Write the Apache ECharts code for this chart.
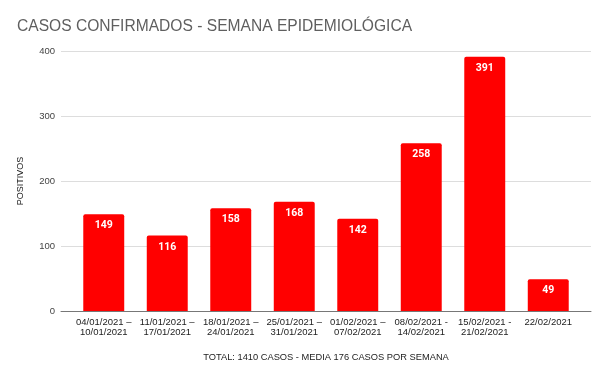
<!DOCTYPE html>
<html><head><meta charset="utf-8">
<script src="https://cdn.jsdelivr.net/npm/echarts@6/dist/echarts.min.js"></script>
<style>html,body{margin:0;padding:0;background:#fff}#c{width:600px;height:370px}</style>
</head><body><div id="c"></div>
<script>
var categories = ["04/01/2021 –\n10/01/2021","11/01/2021 –\n17/01/2021","18/01/2021 –\n24/01/2021","25/01/2021 –\n31/01/2021","01/02/2021 –\n07/02/2021","08/02/2021 -\n14/02/2021","15/02/2021 -\n21/02/2021","22/02/2021"];
var positivos = [149,116,158,168,142,258,391,49];
var yTicks = [0,100,200,300,400];
var F = 'Liberation Sans, Arial, sans-serif';
var chart = echarts.init(document.getElementById('c'));
chart.setOption({
  animation:false,
  title:{text:'CASOS CONFIRMADOS - SEMANA EPIDEMIOLÓGICA',left:12,top:14,textStyle:{fontFamily:F,fontSize:15.6,fontWeight:'normal',color:'#5f5f5f'}},
  grid:[
    {left:61,right:9,top:51,bottom:59},
    {left:72,right:20,top:51,bottom:59}
  ],
  xAxis:[
    {type:'category',gridIndex:0,data:categories,
      axisLine:{lineStyle:{color:'#777',width:1}},axisTick:{show:false},axisLabel:{show:false},
      name:'TOTAL: 1410 CASOS - MEDIA 176 CASOS POR SEMANA',nameLocation:'middle',nameGap:42,
      nameTextStyle:{fontFamily:F,fontSize:9.3,color:'#222'}},
    {type:'category',gridIndex:1,data:categories,
      axisLine:{show:false},axisTick:{show:false},
      axisLabel:{interval:0,fontFamily:F,fontSize:9.5,color:'#222',lineHeight:10,margin:6}}
  ],
  yAxis:[
    {type:'value',gridIndex:0,min:yTicks[0],max:yTicks[yTicks.length-1],interval:100,
      axisLine:{show:false},axisTick:{show:false},
      splitLine:{lineStyle:{color:'#ddd'}},
      axisLabel:{fontFamily:F,fontSize:9.5,color:'#444',margin:6},
      name:'POSITIVOS',nameLocation:'middle',nameGap:36,nameRotate:90,
      nameTextStyle:{fontFamily:F,fontSize:9,color:'#222'}},
    {type:'value',gridIndex:1,min:yTicks[0],max:yTicks[yTicks.length-1],interval:100,show:false}
  ],
  series:[{type:'bar',xAxisIndex:1,yAxisIndex:1,data:positivos,barWidth:'64.5%',
    itemStyle:{color:'#ff0000',borderRadius:[2,2,0,0]},
    label:{show:true,position:'insideTop',distance:6,color:'#fff',fontWeight:'bold',fontFamily:'Roboto, Liberation Sans',fontSize:10.5}}]
});
</script></body></html>
